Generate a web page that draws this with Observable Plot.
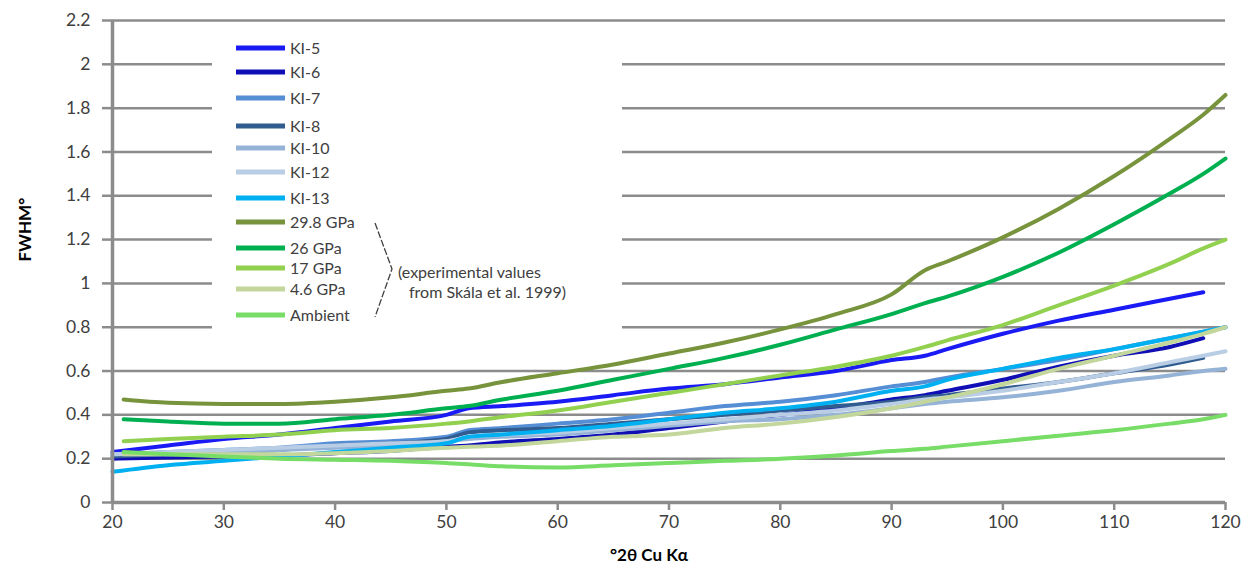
<!DOCTYPE html>
<html><head><meta charset="utf-8">
<script src="https://cdn.jsdelivr.net/npm/d3@7"></script>
<script src="https://cdn.jsdelivr.net/npm/@observablehq/plot@0.6"></script>
<style>
body{margin:0;background:#fff;font-family:Lato,sans-serif}
#wrap{position:relative;width:1252px;height:571px}
#legend{position:absolute;left:212px;top:27px;width:410px;height:308px;background:#fff}
</style></head><body><div id="wrap"><div id="legend"></div></div>
<script>
const theta = [20, 21, 25, 30, 35, 40, 45, 50, 52, 55, 60, 65, 70, 75, 80, 85, 90, 93, 95, 100, 105, 110, 115, 118, 120];
const seriesNames = ["KI-5","KI-6","KI-7","KI-8","KI-10","KI-12","KI-13","29.8 GPa","26 GPa","17 GPa","4.6 GPa","Ambient"];
const seriesColors = ["#1a1af5","#0f0fb5","#558ed5","#305c8f","#95b3d7","#b9cde5","#00b0f0","#77933c","#00b050","#92d050","#c3d69b","#77dd66"];
const ki5  = [0.23,null,0.26,0.29,0.31,0.34,0.37,0.40,0.43,0.44,0.46,0.49,0.52,0.54,0.57,0.60,0.65,0.67,0.70,0.77,0.83,0.88,0.93,0.96,null];
const ki6  = [0.20,null,0.205,0.21,0.215,0.225,0.235,0.255,0.26,0.275,0.29,0.31,0.34,0.37,0.40,0.43,0.47,0.49,0.51,0.56,0.62,0.67,0.71,0.75,null];
const ki7  = [0.22,null,0.23,0.24,0.25,0.27,0.28,0.30,0.33,0.34,0.36,0.38,0.41,0.44,0.46,0.49,0.53,0.55,0.57,0.61,0.65,0.70,0.75,0.78,0.80];
const ki8  = [0.21,null,0.22,0.23,0.24,0.26,0.27,0.29,0.32,0.33,0.34,0.36,0.38,0.40,0.42,0.44,0.46,0.48,0.49,0.52,0.55,0.59,0.63,0.66,null];
const ki10 = [0.22,null,0.22,0.23,0.24,0.25,0.26,0.28,0.29,0.30,0.31,0.33,0.35,0.37,0.38,0.40,0.43,0.45,0.46,0.48,0.51,0.55,0.58,0.60,0.61];
const ki12 = [0.22,null,0.23,0.24,0.25,0.26,0.27,0.28,0.30,0.31,0.32,0.34,0.36,0.38,0.40,0.42,0.45,0.47,0.48,0.51,0.55,0.59,0.64,0.67,0.69];
const ki13 = [0.14,null,0.17,0.19,0.21,0.23,0.25,0.27,0.30,0.31,0.33,0.35,0.38,0.41,0.43,0.46,0.51,0.53,0.56,0.61,0.66,0.70,0.75,0.78,0.80];
const gpa298 = [null,0.47,0.455,0.45,0.45,0.46,0.48,0.51,0.52,0.55,0.59,0.63,0.68,0.73,0.79,0.86,0.95,1.06,1.10,1.21,1.34,1.49,1.66,1.77,1.86];
const gpa26  = [null,0.38,0.37,0.36,0.36,0.38,0.40,0.43,0.44,0.47,0.51,0.56,0.61,0.66,0.72,0.79,0.86,0.91,0.94,1.03,1.14,1.27,1.41,1.50,1.57];
const gpa17  = [null,0.28,0.29,0.30,0.31,0.33,0.34,0.36,0.37,0.39,0.42,0.46,0.50,0.54,0.58,0.62,0.67,0.71,0.74,0.81,0.90,0.99,1.09,1.16,1.20];
const gpa46  = [null,0.22,0.22,0.22,0.22,0.225,0.235,0.25,0.255,0.26,0.28,0.30,0.31,0.34,0.36,0.39,0.43,0.46,0.48,0.54,0.61,0.67,0.73,0.77,0.80];
const ambient = [null,0.23,0.22,0.21,0.20,0.195,0.19,0.18,0.175,0.165,0.16,0.17,0.18,0.19,0.20,0.215,0.235,0.245,0.255,0.28,0.305,0.33,0.36,0.38,0.40];
const seriesValues = [ki5, ki6, ki7, ki8, ki10, ki12, ki13, gpa298, gpa26, gpa17, gpa46, ambient];
const yTicks = [0, 0.2, 0.4, 0.6, 0.8, 1, 1.2, 1.4, 1.6, 1.8, 2, 2.2];
const xTicks = [20, 30, 40, 50, 60, 70, 80, 90, 100, 110, 120];
const yTitle = "FWHM°";
const xTitle = "°2θ Cu Kα";
const bracketNote = ["(experimental values", "from Skála et al. 1999)"];

const rows = [];
seriesNames.forEach((name, i) => seriesValues[i].forEach((v, j) => {
  if (v != null) rows.push({series: name, theta: theta[j], fwhm: v});
}));

const grid = "#8c8c8c";
const chart = Plot.plot({
  width: 1252, height: 571,
  marginTop: 20, marginRight: 27, marginBottom: 69, marginLeft: 112,
  style: {fontFamily: "Lato, sans-serif", fontSize: "17.5px", color: "#404040", background: "#fff"},
  x: {domain: [20, 120]},
  y: {domain: [0, 2.2]},
  color: {domain: seriesNames, range: seriesColors},
  marks: [
    Plot.ruleY(yTicks.filter(d => d > 0), {stroke: grid, strokeWidth: 2.5}),
    Plot.line(rows, {x: "theta", y: "fwhm", z: "series", stroke: "series", strokeWidth: 4, curve: "monotone-x"}),
    Plot.ruleX([20], {y1: 0, y2: 2.2, stroke: grid, strokeWidth: 3.5}),
    Plot.ruleY([0], {stroke: grid, strokeWidth: 3.5}),
    Plot.axisY({ticks: yTicks, tickSize: 10, tickPadding: 12, tickFormat: d => String(+d.toFixed(1)), stroke: grid, strokeWidth: 2.5, fill: "#404040", label: null}),
    Plot.axisX({ticks: xTicks, tickSize: 8, tickPadding: 5, stroke: grid, strokeWidth: 2.5, fill: "#404040", label: null}),
    Plot.text([yTitle], {frameAnchor: "left", rotate: -90, dx: -87, fontWeight: "bold", fontSize: 17, fill: "#000"}),
    Plot.text([xTitle], {frameAnchor: "bottom", dy: 58, dx: -20, fontWeight: "bold", fontSize: 17, fill: "#000"})
  ]
});
document.getElementById("wrap").insertBefore(chart, document.getElementById("legend"));

// legend overlay
const rowY = [21, 45, 71, 99, 121, 145, 171, 195, 221, 241, 262, 288];
const leg = d3.select("#legend").append("svg").attr("width", 410).attr("height", 308)
  .style("font-family", "Lato, sans-serif");
seriesNames.forEach((name, i) => {
  leg.append("line").attr("x1", 24).attr("x2", 73).attr("y1", rowY[i]).attr("y2", rowY[i])
    .attr("stroke", seriesColors[i]).attr("stroke-width", 5);
  leg.append("text").attr("x", 78).attr("y", rowY[i]).attr("dy", "0.35em")
    .attr("font-size", 16).attr("fill", "#404040").text(name);
});
leg.append("polyline").attr("points", "163,196 180,242 163,290").attr("fill", "none")
  .attr("stroke", "#404040").attr("stroke-width", 1.3).attr("stroke-dasharray", "7,2");
leg.append("text").attr("x", 186).attr("y", 245).attr("dy", "0.35em").attr("font-size", 16).attr("fill", "#404040").text(bracketNote[0]);
leg.append("text").attr("x", 197).attr("y", 265).attr("dy", "0.35em").attr("font-size", 16).attr("fill", "#404040").text(bracketNote[1]);
</script></body></html>
